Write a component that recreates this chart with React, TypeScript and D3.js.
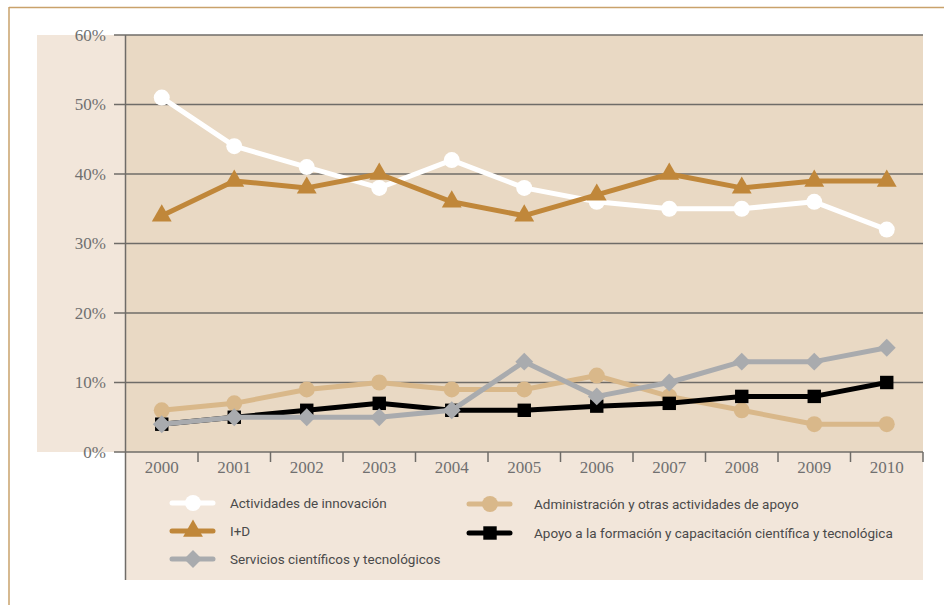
import React, { useEffect } from "react";
import * as d3 from "d3";

const years = ["2000","2001","2002","2003","2004","2005","2006","2007","2008","2009","2010"];
const innovacion = [51, 44, 41, 38, 42, 38, 36, 35, 35, 36, 32];
const iyd = [34, 39, 38, 40, 36, 34, 37, 40, 38, 39, 39];
const servicios = [4, 5, 5, 5, 6, 13, 8, 10, 13, 13, 15];
const administracion = [6, 7, 9, 10, 9, 9, 11, 8, 6, 4, 4];
const apoyo = [4, 5, 6, 7, 6, 6, 6.6, 7, 8, 8, 10];
const yTicks = [0, 10, 20, 30, 40, 50, 60];

type Series = { name: string; values: number[]; color: string; marker: string };
const series: Series[] = [
  { name: "Actividades de innovación", values: innovacion, color: "#ffffff", marker: "circle" },
  { name: "I+D", values: iyd, color: "#c0873a", marker: "triangle" },
  { name: "Administración y otras actividades de apoyo", values: administracion, color: "#d9b88a", marker: "circle" },
  { name: "Apoyo a la formación y capacitación científica y tecnológica", values: apoyo, color: "#000000", marker: "square" },
  { name: "Servicios científicos y tecnológicos", values: servicios, color: "#a9abae", marker: "diamond" },
];
const legendCol1 = ["Actividades de innovación", "I+D", "Servicios científicos y tecnológicos"];
const legendCol2 = ["Administración y otras actividades de apoyo", "Apoyo a la formación y capacitación científica y tecnológica"];

const symbolType: Record<string, d3.SymbolType> = {
  circle: d3.symbolCircle,
  triangle: d3.symbolTriangle,
  square: d3.symbolSquare,
  diamond: d3.symbolSquare,
};
const symbolSize: Record<string, number> = {
  circle: 200,
  triangle: 170,
  square: 180,
  diamond: 160,
};
const symbolRotate: Record<string, number> = { circle: 0, triangle: 0, square: 0, diamond: 45 };

const L = 125.5, R = 923, T = 35, B = 452, PB = 580;

export default function App() {
  useEffect(() => {
    document.body.style.margin = "0";
  }, []);

  const x = d3.scaleBand<string>().domain(years).range([L, R]).padding(0);
  const y = d3.scaleLinear().domain([0, 60]).range([B, T]);
  const cx = (yr: string) => (x(yr) as number) + x.bandwidth() / 2;

  const line = d3
    .line<number>()
    .x((_, i) => cx(years[i]))
    .y((d) => y(d));

  const sym = (m: string) => d3.symbol().type(symbolType[m]).size(symbolSize[m])() as string;
  const bySeries = (n: string) => series.find((s) => s.name === n)!;
  const place = (m: string, px: number, py: number) => `translate(${px},${py}) rotate(${symbolRotate[m]})`;

  const legendItem = (name: string, lx: number, ly: number, tx: number) => {
    const s = bySeries(name);
    return (
      <g key={name}>
        <line x1={lx} x2={lx + 41} y1={ly} y2={ly} stroke={s.color} strokeWidth={5} strokeLinecap="round" />
        <path d={sym(s.marker)} transform={place(s.marker, lx + 21, ly)} fill={s.color} />
        <text x={tx} y={ly} dy="0.35em" fontFamily="Roboto, 'Liberation Sans', sans-serif" fontSize={13.5} fill="#4a4a4a">
          {name}
        </text>
      </g>
    );
  };

  return (
    <svg width={944} height={605} style={{ display: "block" }}>
      <rect x={0} y={0} width={944} height={605} fill="#ffffff" />
      {/* outer gold frame */}
      <line x1={9} x2={944} y1={7.5} y2={7.5} stroke="#c9a26b" strokeWidth={1.5} />
      <line x1={9} x2={9} y1={7} y2={605} stroke="#c9a26b" strokeWidth={1.5} />
      {/* light band and panels */}
      <rect x={37} y={T} width={L - 37} height={B - T} fill="#f2e6da" />
      <rect x={L} y={B} width={R - L} height={PB - B} fill="#f2e6da" />
      <rect x={L} y={T} width={R - L} height={B - T} fill="#e9d9c4" />
      {/* gridlines */}
      {yTicks.map((t) => (
        <g key={t}>
          <line x1={114} x2={R} y1={y(t)} y2={y(t)} stroke="#6f6c68" strokeWidth={1.5} />
          <text x={106} y={y(t)} dy="0.35em" textAnchor="end" fontFamily="'Liberation Serif', serif" fontSize={17} fill="#707070">
            {t}%
          </text>
        </g>
      ))}
      {/* y axis */}
      <line x1={L} x2={L} y1={T} y2={PB} stroke="#6f6c68" strokeWidth={1.5} />
      {/* x ticks */}
      {years.map((yr) => (
        <g key={yr}>
          <line x1={(x(yr) as number) + x.bandwidth()} x2={(x(yr) as number) + x.bandwidth()} y1={B} y2={B + 10} stroke="#6f6c68" strokeWidth={1.5} />
          <text x={cx(yr)} y={467} dy="0.35em" textAnchor="middle" fontFamily="'Liberation Serif', serif" fontSize={17} fill="#707070">
            {yr}
          </text>
        </g>
      ))}
      {/* series */}
      {series.map((s) => (
        <g key={s.name}>
          <path d={line(s.values) as string} fill="none" stroke={s.color} strokeWidth={5} strokeLinejoin="round" />
          {s.values.map((v, i) => (
            <path key={i} d={sym(s.marker)} transform={place(s.marker, cx(years[i]), y(v))} fill={s.color} />
          ))}
        </g>
      ))}
      {/* legend */}
      {legendCol1.map((n, i) => legendItem(n, 172, [503, 531, 559][i], 230))}
      {legendCol2.map((n, i) => legendItem(n, 469, [504, 533][i], 534))}
    </svg>
  );
}
